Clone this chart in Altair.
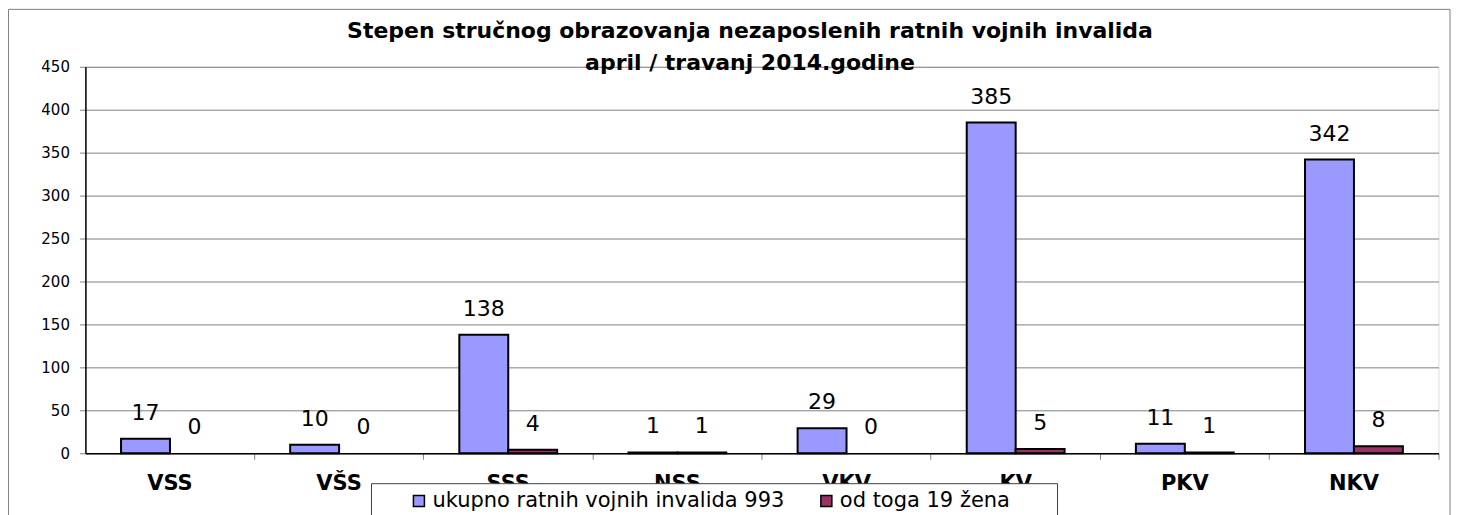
import altair as alt
import pandas as pd

categories = ["VSS", "VŠS", "SSS", "NSS", "VKV", "KV", "PKV", "NKV"]
total_values = [17, 10, 138, 1, 29, 385, 11, 342]
women_values = [0, 0, 4, 1, 0, 5, 1, 8]
series_names = ["ukupno ratnih vojnih invalida 993", "od toga 19 žena"]
series_colors = ["#9999FF", "#993366"]
y_ticks = [0, 50, 100, 150, 200, 250, 300, 350, 400, 450]
title_line1 = "Stepen stručnog obrazovanja nezaposlenih ratnih vojnih invalida"
title_line2 = "april / travanj  2014.godine"

rows = []
for c, t, w in zip(categories, total_values, women_values):
    rows.append({"cat": c, "series": series_names[0], "value": t})
    rows.append({"cat": c, "series": series_names[1], "value": w})
df = pd.DataFrame(rows)

FONT = "DejaVu Sans"

x_enc = alt.X("cat:N", sort=categories,
              scale=alt.Scale(paddingInner=0, paddingOuter=0),
              axis=alt.Axis(title=None, labelAngle=0, labelFont=FONT,
                            labelFontWeight="bold", labelFontSize=21,
                            labelColor="black", domainColor="black",
                            domainWidth=1.5, tickColor="#808080", tickSize=6,
                            bandPosition=1, labelPadding=13))
xo_enc = alt.XOffset("series:N", sort=series_names,
                     scale=alt.Scale(paddingOuter=0.7285, paddingInner=0))
y_enc = alt.Y("value:Q", scale=alt.Scale(domain=[0, 450], nice=False),
              axis=alt.Axis(values=y_ticks, title=None, grid=True,
                            gridColor="#808080", gridWidth=1,
                            domainColor="black", domainWidth=1.5,
                            tickColor="#808080", tickSize=6,
                            labelFont=FONT, labelFontSize=15,
                            labelColor="black", labelPadding=10))

base = alt.Chart(df)

bars = base.mark_bar(stroke="black", strokeWidth=2).encode(
    x=x_enc, xOffset=xo_enc, y=y_enc,
    strokeOpacity=alt.condition("datum.value == 0", alt.value(0), alt.value(1)),
    color=alt.Color("series:N", sort=series_names,
                    scale=alt.Scale(domain=series_names, range=series_colors),
                    legend=alt.Legend(orient="none", legendX=323.5, legendY=424,
                                      direction="horizontal", title=None,
                                      symbolType="square", symbolSize=121,
                                      symbolStrokeColor="black",
                                      symbolStrokeWidth=1.5, symbolOpacity=1,
                                      labelFont=FONT, labelFontSize=21,
                                      labelColor="black", labelOffset=3,
                                      labelLimit=0, columnPadding=31,
                                      padding=0)),
)

labels = base.mark_text(baseline="bottom", dy=-14, fontSize=22, font=FONT,
                        color="black").encode(
    x=alt.X("cat:N", sort=categories), xOffset=alt.XOffset("series:N", sort=series_names),
    y=alt.Y("value:Q"), text=alt.Text("value:Q"))

deco = alt.Chart(pd.DataFrame({"k": [0]}))
legend_box = deco.mark_rect(fill="white", stroke="#404040", strokeWidth=1).encode(
    x=alt.value(286.5), x2=alt.value(973.5), y=alt.value(417.5), y2=alt.value(600))
frame = deco.mark_rect(fill="transparent", stroke="#808080", strokeWidth=1).encode(
    x=alt.value(-77), x2=alt.value(1366.5), y=alt.value(-57.5), y2=alt.value(700))
title1 = deco.mark_text(font=FONT, fontSize=22, fontWeight="bold", color="black",
                        align="center", baseline="alphabetic").encode(
    x=alt.value(665.5), y=alt.value(-28.5), text=alt.value(title_line1))
title2 = deco.mark_text(font=FONT, fontSize=22, fontWeight="bold", color="black",
                        align="center", baseline="alphabetic").encode(
    x=alt.value(665.5), y=alt.value(3.5), text=alt.value(title_line2))

chart = alt.layer(frame, bars, labels, legend_box, title1, title2).properties(
    width=1355, height=387,
    autosize=alt.AutoSizeParams(type="none"),
    padding={"left": 77.5, "top": 58.5, "right": 13.5, "bottom": 61.5},
).configure_view(strokeWidth=0).configure(background="white")

chart.save("out.html", embed_options={"renderer": "svg", "actions": False})
